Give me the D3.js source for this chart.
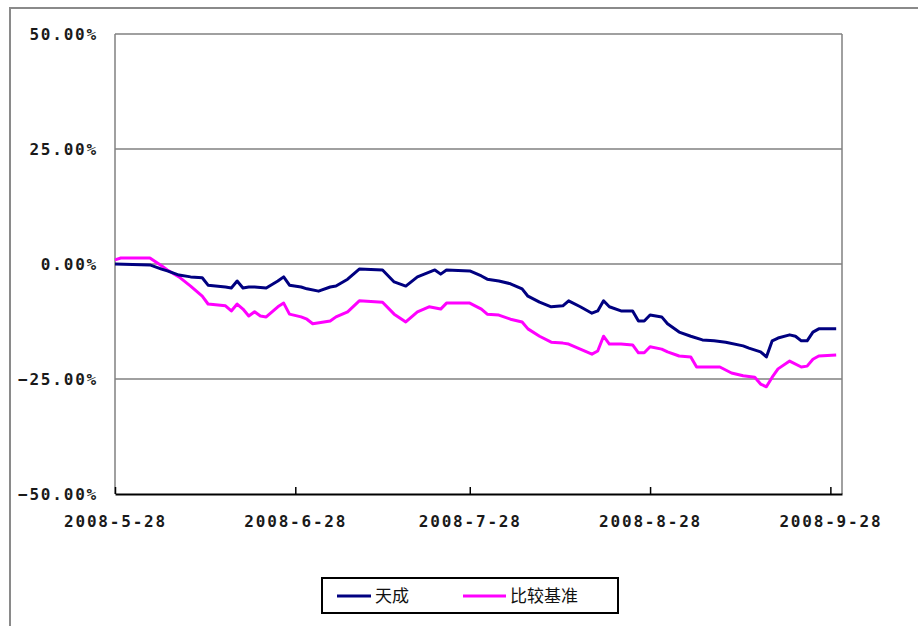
<!DOCTYPE html>
<html>
<head>
<meta charset="utf-8">
<script src="https://cdn.jsdelivr.net/npm/d3@7"></script>
<style>
  html, body { margin: 0; padding: 0; background: #fff; }
  svg { display: block; }
  .lbl { font-family: "DejaVu Sans Mono", "Liberation Mono", monospace; font-size: 16px; font-weight: bold; letter-spacing: 1.8px; fill: #1a1a1a; }
  .leg { font-family: "Noto Sans CJK SC", sans-serif; font-size: 17px; fill: #111; }
</style>
</head>
<body>
<svg id="chart" width="918" height="626"></svg>
<script>
// --- Data (% return since 2008-5-28) ---
const tcDates = ["2008-05-28","2008-06-03","2008-06-05","2008-06-06","2008-06-08","2008-06-10","2008-06-12","2008-06-13",
  "2008-06-16","2008-06-17","2008-06-18","2008-06-19","2008-06-20","2008-06-21","2008-06-23","2008-06-25","2008-06-26",
  "2008-06-27","2008-06-29","2008-06-30","2008-07-02","2008-07-04","2008-07-05","2008-07-07","2008-07-09","2008-07-13",
  "2008-07-15","2008-07-17","2008-07-19","2008-07-22","2008-07-23","2008-07-24","2008-07-28","2008-07-30","2008-07-31",
  "2008-08-02","2008-08-04","2008-08-06","2008-08-07","2008-08-09","2008-08-11","2008-08-13","2008-08-14","2008-08-16",
  "2008-08-18","2008-08-19","2008-08-20","2008-08-21","2008-08-23","2008-08-25","2008-08-26","2008-08-27","2008-08-28",
  "2008-08-30","2008-08-31","2008-09-02","2008-09-04","2008-09-06","2008-09-08","2008-09-10","2008-09-13","2008-09-14",
  "2008-09-16","2008-09-17","2008-09-18","2008-09-19","2008-09-21","2008-09-22","2008-09-23","2008-09-24","2008-09-25",
  "2008-09-26","2008-09-29"];
const tcValues = [0, -0.2, -1.1, -1.5, -2.4, -2.8, -3.0, -4.6,
  -5.0, -5.2, -3.7, -5.2, -5.0, -5.0, -5.2, -3.7, -2.8,
  -4.6, -5.0, -5.4, -5.9, -5.0, -4.8, -3.3, -1.1, -1.3,
  -3.9, -4.8, -2.8, -1.3, -2.2, -1.3, -1.5, -2.6, -3.3,
  -3.7, -4.3, -5.4, -7.0, -8.3, -9.3, -9.1, -8.0, -9.3,
  -10.7, -10.2, -8.0, -9.3, -10.2, -10.2, -12.4, -12.4, -11.1,
  -11.5, -13.0, -14.8, -15.7, -16.5, -16.7, -17.0, -17.8, -18.3,
  -19.1, -20.2, -16.7, -16.1, -15.4, -15.7, -16.7, -16.7, -14.8,
  -14.1, -14.1];

const bmDates = ["2008-05-28","2008-05-29","2008-06-03","2008-06-05","2008-06-06","2008-06-08","2008-06-10","2008-06-12",
  "2008-06-13","2008-06-16","2008-06-17","2008-06-18","2008-06-19","2008-06-20","2008-06-21","2008-06-22","2008-06-23",
  "2008-06-25","2008-06-26","2008-06-27","2008-06-29","2008-06-30","2008-07-01","2008-07-04","2008-07-05","2008-07-07",
  "2008-07-09","2008-07-13","2008-07-15","2008-07-17","2008-07-19","2008-07-21","2008-07-23","2008-07-24","2008-07-28",
  "2008-07-30","2008-07-31","2008-08-02","2008-08-04","2008-08-06","2008-08-07","2008-08-09","2008-08-11","2008-08-13",
  "2008-08-14","2008-08-16","2008-08-18","2008-08-19","2008-08-20","2008-08-21","2008-08-23","2008-08-25","2008-08-26",
  "2008-08-27","2008-08-28","2008-08-30","2008-08-31","2008-09-02","2008-09-04","2008-09-05","2008-09-06","2008-09-09",
  "2008-09-11","2008-09-13","2008-09-15","2008-09-16","2008-09-17","2008-09-18","2008-09-19","2008-09-21","2008-09-23",
  "2008-09-24","2008-09-25","2008-09-26","2008-09-29"];
const bmValues = [0.9, 1.3, 1.3, -0.4, -1.3, -2.8, -4.8, -7.0,
  -8.7, -9.1, -10.2, -8.7, -9.8, -11.3, -10.4, -11.3, -11.5,
  -9.3, -8.5, -10.9, -11.5, -12.0, -13.0, -12.4, -11.5, -10.4,
  -8.0, -8.3, -10.9, -12.6, -10.4, -9.3, -9.8, -8.5, -8.5,
  -9.8, -10.9, -11.1, -12.0, -12.6, -14.1, -15.7, -17.0, -17.2,
  -17.4, -18.5, -19.6, -18.9, -15.7, -17.4, -17.4, -17.6, -19.3,
  -19.3, -18.0, -18.5, -19.1, -20.0, -20.2, -22.4, -22.4, -22.4,
  -23.7, -24.3, -24.6, -26.1, -26.7, -24.6, -22.8, -21.1, -22.4,
  -22.2, -20.7, -20.0, -19.8];

const xTickDates = ["2008-05-28","2008-06-28","2008-07-28","2008-08-28","2008-09-28"];
const yTicks = [-50, -25, 0, 25, 50];
const seriesNames = ["天成", "比较基准"];
const seriesColors = ["#000080", "#ff00ff"];

// --- Setup ---
const parse = d3.utcParse("%Y-%m-%d");
const svg = d3.select("#chart");

const plotLeft = 115, plotRight = 842, plotTop = 34, plotBottom = 494;

const x = d3.scaleUtc()
    .domain([parse("2008-05-28"), parse("2008-09-30")])
    .range([plotLeft, plotRight]);

const y = d3.scaleLinear()
    .domain([-50, 50])
    .range([plotBottom, plotTop]);

// outer chart frame (runs off the picture right and bottom)
svg.append("rect")
    .attr("x", 10).attr("y", 8)
    .attr("width", 1000).attr("height", 800)
    .attr("fill", "none")
    .attr("stroke", "#8a8a8a")
    .attr("stroke-width", 2);

// --- Gridlines & plot border ---
svg.append("g")
    .selectAll("line")
    .data(yTicks.filter(t => t !== -50))
    .join("line")
    .attr("x1", plotLeft).attr("x2", plotRight)
    .attr("y1", d => y(d)).attr("y2", d => y(d))
    .attr("stroke", "#808080")
    .attr("stroke-width", 1.5);

svg.append("line")
    .attr("x1", plotLeft).attr("x2", plotLeft)
    .attr("y1", plotTop).attr("y2", plotBottom)
    .attr("stroke", "#808080").attr("stroke-width", 1.5);
svg.append("line")
    .attr("x1", plotRight).attr("x2", plotRight)
    .attr("y1", plotTop).attr("y2", plotBottom)
    .attr("stroke", "#808080").attr("stroke-width", 1.5);

// --- Y axis labels ---
const fmt = d3.format(".2f");
svg.append("g")
    .selectAll("text")
    .data(yTicks)
    .join("text")
    .attr("class", "lbl")
    .attr("x", 98)
    .attr("y", d => y(d))
    .attr("dy", "0.35em")
    .attr("text-anchor", "end")
    .text(d => fmt(d) + "%");

// --- X axis ---
const xAxis = d3.axisBottom(x)
    .tickValues(xTickDates.map(parse))
    .tickSizeInner(-7)
    .tickSizeOuter(0)
    .tickPadding(22)
    .tickFormat(d3.utcFormat("%Y-%-m-%d"));

const gx = svg.append("g")
    .attr("transform", `translate(0,${plotBottom})`)
    .call(xAxis);
gx.select(".domain").attr("stroke", "#000").attr("stroke-width", 2);
gx.selectAll(".tick line").attr("stroke", "#000").attr("stroke-width", 1.5);
gx.attr("font-family", null).attr("font-size", null);
gx.selectAll(".tick text")
    .attr("class", "lbl")
    .attr("fill", null);

// --- Lines ---
const line = d3.line()
    .x(d => x(d.date))
    .y(d => y(d.value));

const series = [
    { name: seriesNames[0], color: seriesColors[0], data: tcDates.map((d, i) => ({ date: parse(d), value: tcValues[i] })) },
    { name: seriesNames[1], color: seriesColors[1], data: bmDates.map((d, i) => ({ date: parse(d), value: bmValues[i] })) }
];

svg.append("g")
    .selectAll("path")
    .data(series.slice().reverse())
    .join("path")
    .attr("fill", "none")
    .attr("stroke", d => d.color)
    .attr("stroke-width", 3)
    .attr("stroke-linejoin", "round")
    .attr("d", d => line(d.data));

// --- Legend ---
const legend = svg.append("g").attr("transform", "translate(322,578)");
legend.append("rect")
    .attr("width", 296).attr("height", 35)
    .attr("fill", "#fff")
    .attr("stroke", "#000")
    .attr("stroke-width", 2);

const legendItems = [
    { name: seriesNames[0], color: seriesColors[0], x0: 15, len: 34 },
    { name: seriesNames[1], color: seriesColors[1], x0: 141, len: 43 }
];
const li = legend.selectAll("g.item")
    .data(legendItems)
    .join("g")
    .attr("class", "item")
    .attr("transform", d => `translate(${d.x0},18)`);
li.append("line")
    .attr("x1", 0).attr("x2", d => d.len)
    .attr("stroke", d => d.color)
    .attr("stroke-width", 3);
li.append("text")
    .attr("class", "leg")
    .attr("x", d => d.len + 4)
    .attr("dy", "0.36em")
    .text(d => d.name);
</script>
</body>
</html>
